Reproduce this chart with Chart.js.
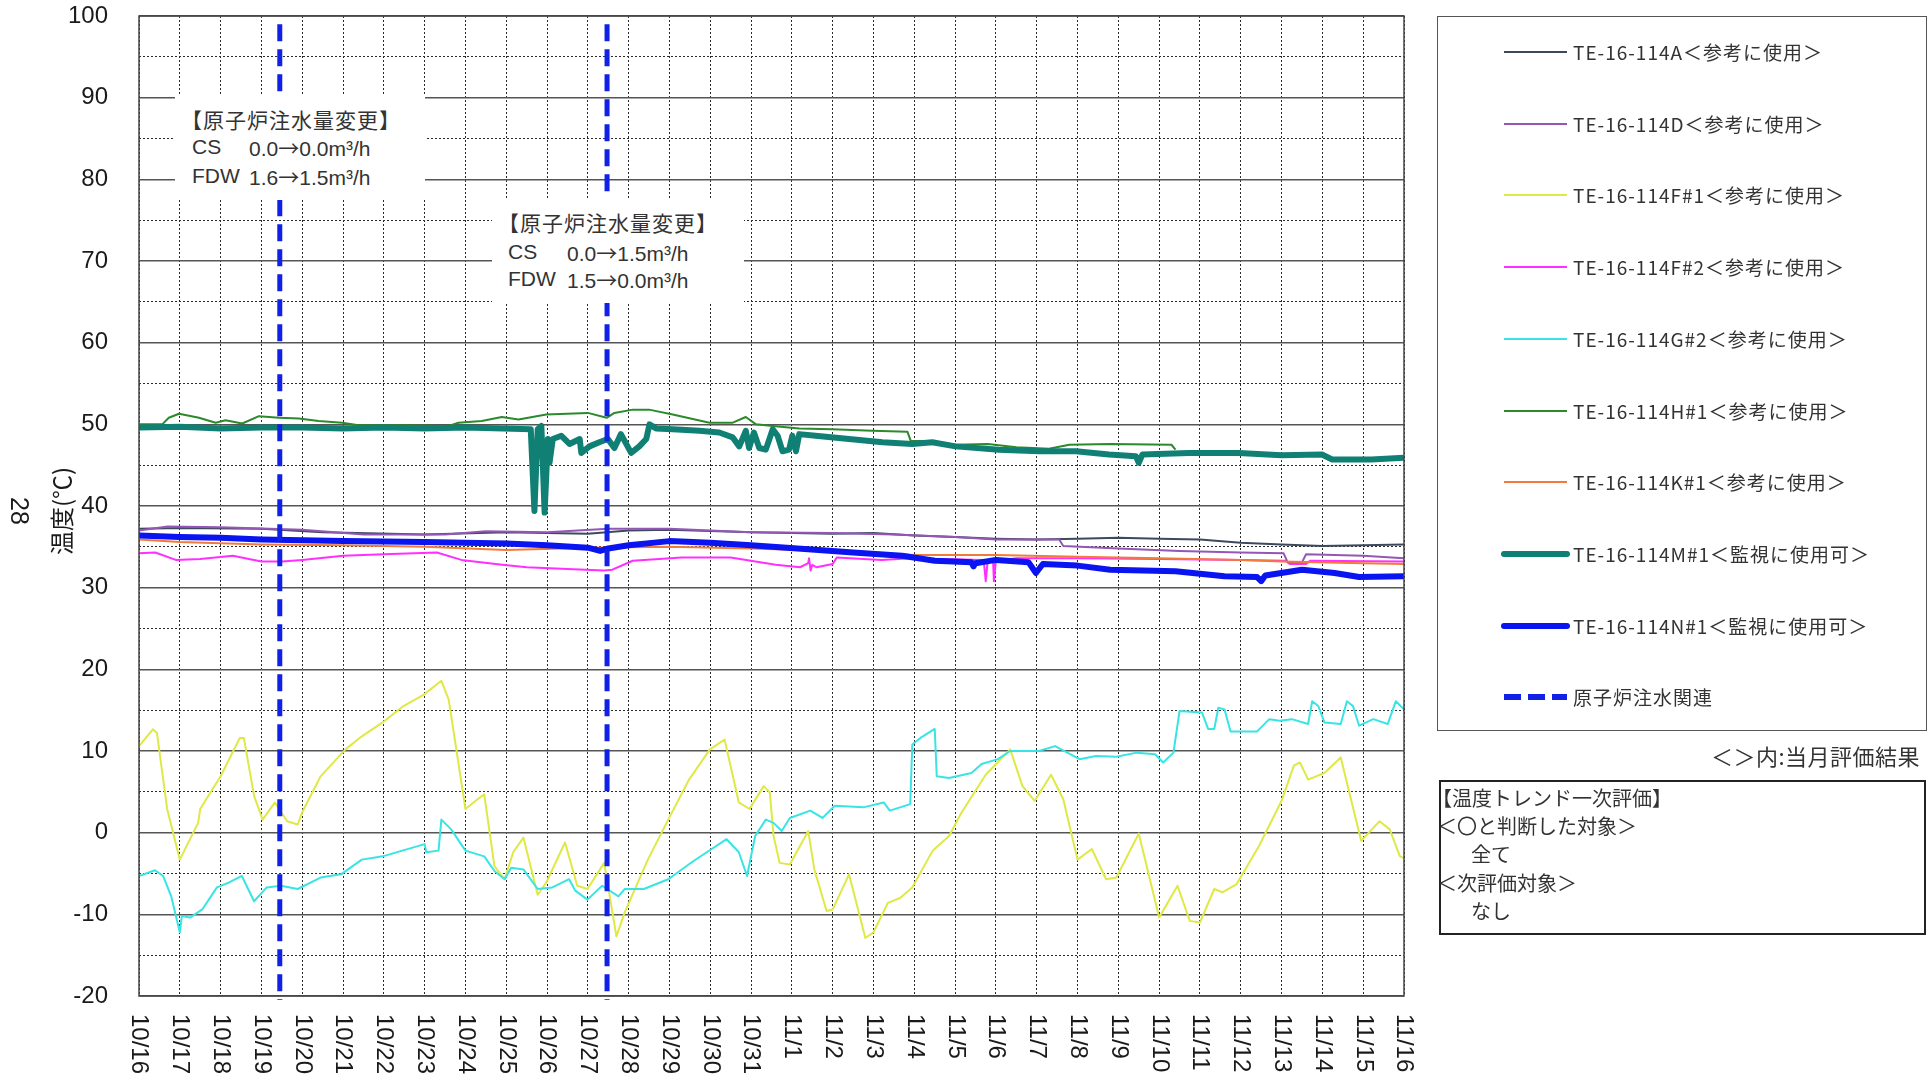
<!DOCTYPE html>
<html lang="ja">
<head>
<meta charset="utf-8">
<title>温度トレンド</title>
<script src="https://cdn.jsdelivr.net/npm/chart.js@4.4.1/dist/chart.umd.min.js"></script>
<style>
  body { margin: 0; background: #fff; }
  #wrap { position: relative; width: 1930px; height: 1085px; overflow: hidden;
          font-family: "Noto Sans CJK JP", sans-serif; color: #333; }
  #chart { position: absolute; left: 0; top: 0; }
  .memo { position: absolute; background: #fff; }
  .memo div { position: absolute; white-space: nowrap; font-family: "Liberation Sans", "Noto Sans CJK JP", sans-serif;
              font-size: 21px; line-height: 26px; color: #333; }
  .memo .cj { font-family: "Noto Sans CJK JP", sans-serif; }
  .memo .head { letter-spacing: 1px; }
  #legendBox { position: absolute; left: 1437px; top: 16px; width: 490px; height: 715px;
               border: 1.5px solid #555; box-sizing: border-box; }
  .item { position: absolute; left: 1500px; height: 24px; width: 420px; }
  .item svg { position: absolute; left: 0; top: 6px; }
  .item span { position: absolute; left: 73px; top: 0; font-size: 19px; line-height: 24px;
               letter-spacing: 1px; white-space: nowrap; color: #333; }
  #note { position: absolute; right: 10px; top: 741px; font-size: 22px; line-height: 28px;
          letter-spacing: 0.5px; color: #333; }
  #evalBox { position: absolute; left: 1439px; top: 780px; width: 487px; height: 155px;
             border: 2px solid #222; box-sizing: border-box; }
  .ev { position: absolute; font-size: 20px; line-height: 28px; white-space: nowrap; color: #333; }
</style>
</head>
<body>
<div id="wrap">
  <canvas id="chart" width="1930" height="1085"></canvas>

  <div class="memo" style="left:175px; top:95px; width:250px; height:105px;">
    <div class="cj head" style="left:6px; top:11px;">【原子炉注水量変更】</div>
    <div style="left:17px; top:39px;">CS</div><div style="left:74px; top:39px;">0.0<span class="cj">→</span>0.0m³/h</div>
    <div style="left:17px; top:68px;">FDW</div><div style="left:74px; top:68px;">1.6<span class="cj">→</span>1.5m³/h</div>
  </div>
  <div class="memo" style="left:492px; top:198px; width:252px; height:105px;">
    <div class="cj head" style="left:6px; top:11px;">【原子炉注水量変更】</div>
    <div style="left:16px; top:41px;">CS</div><div style="left:75px; top:41px;">0.0<span class="cj">→</span>1.5m³/h</div>
    <div style="left:16px; top:68px;">FDW</div><div style="left:75px; top:68px;">1.5<span class="cj">→</span>0.0m³/h</div>
  </div>

  <div id="legendBox"></div>
  <div id="legendItems"></div>

  <div id="note">＜＞内:当月評価結果</div>
  <div id="evalBox"></div>
  <div class="ev" style="left:1432px; top:784px;">【温度トレンド一次評価】</div>
  <div class="ev" style="left:1437px; top:812px;">＜〇と判断した対象＞</div>
  <div class="ev" style="left:1471px; top:840px;">全て</div>
  <div class="ev" style="left:1437px; top:869px;">＜次評価対象＞</div>
  <div class="ev" style="left:1471px; top:897px;">なし</div>
</div>

<script>
// x = days since 10/16 0:00, y = temperature (℃)
const dateLabels = ['10/16', '10/17', '10/18', '10/19', '10/20', '10/21', '10/22', '10/23', '10/24', '10/25',
  '10/26', '10/27', '10/28', '10/29', '10/30', '10/31', '11/1', '11/2', '11/3', '11/4', '11/5', '11/6',
  '11/7', '11/8', '11/9', '11/10', '11/11', '11/12', '11/13', '11/14', '11/15', '11/16'];

const tempTicks = [100, 90, 80, 70, 60, 50, 40, 30, 20, 10, 0, -10, -20];

const injectionChangeDays = [3.45, 11.47];

const te114A = [[0, 37.2], [1, 37.3], [3, 37.2], [4.5, 36.8], [7, 36.5], [9, 36.8], [11, 36.6], [12, 37.0],
  [13, 37.1], [15, 36.8], [17, 36.6], [18, 36.7], [19, 36.4], [20, 36.2], [21, 36.0], [22, 35.9], [23, 36.0],
  [24, 36.1], [25, 36.0], [26, 35.9], [27, 35.5], [28, 35.3], [29, 35.1], [30, 35.2], [31, 35.3]];

const te114D = [[0, 37.0], [0.7, 37.5], [2, 37.4], [4, 37.1], [5.5, 36.5], [7.5, 36.5], [8.5, 36.9], [10, 36.8],
  [11.5, 37.2], [13, 37.2], [15, 36.8], [17, 36.7], [18.5, 36.5], [20, 36.2], [21, 35.9], [22.55, 35.9],
  [22.65, 35.1], [24, 34.8], [25.5, 34.5], [27, 34.3], [28.05, 34.2], [28.15, 33.1], [28.5, 33.1], [28.6, 34.1],
  [30, 33.9], [31, 33.6]];

const te114F1 = [[0, 10.6], [0.34, 12.65], [0.44, 12.2], [0.69, 2.9], [1.0, -3.3], [1.45, 1.2], [1.5, 2.9],
  [2.0, 6.9], [2.47, 11.6], [2.57, 11.6], [2.82, 4.5], [3.03, 1.6], [3.33, 3.7], [3.63, 1.4], [3.89, 1.0],
  [3.99, 2.4], [4.45, 6.9], [5.06, 10.2], [5.46, 11.8], [5.97, 13.5], [6.48, 15.5], [6.98, 16.9], [7.41, 18.6],
  [7.59, 16.3], [8.0, 2.9], [8.25, 3.9], [8.46, 4.7], [8.71, -4.1], [8.96, -5.7], [9.17, -2.4], [9.42, -0.6],
  [9.77, -7.6], [9.98, -6.1], [10.44, -1.2], [10.74, -6.5], [10.99, -6.9], [11.4, -3.7], [11.7, -12.7],
  [11.9, -9.8], [12.47, -3.3], [12.97, 1.6], [13.48, 6.5], [13.99, 10.2], [14.35, 11.4], [14.7, 3.7],
  [14.96, 2.9], [15.31, 5.7], [15.46, 4.9], [15.55, -0.4], [15.7, -3.7], [15.95, -3.9], [16.4, 0.2],
  [16.55, -4.5], [16.85, -9.6], [17.0, -9.4], [17.4, -5.1], [17.8, -12.9], [18.0, -12.2], [18.35, -8.6],
  [18.65, -8.0], [18.95, -6.7], [19.45, -2.2], [19.85, -0.4], [20.15, 2.4], [20.75, 7.1], [21.35, 10.2],
  [21.65, 5.7], [21.95, 3.9], [22.35, 7.1], [22.65, 4.1], [23.0, -3.3], [23.35, -2.0], [23.7, -5.7],
  [23.95, -5.5], [24.5, -0.1], [25.0, -10.4], [25.45, -6.5], [25.75, -10.8], [26.0, -11.0], [26.35, -6.9],
  [26.55, -7.3], [26.9, -6.3], [27.45, -1.6], [28.0, 3.9], [28.3, 8.2], [28.45, 8.6], [28.65, 6.5],
  [29.05, 7.3], [29.45, 9.2], [29.95, -1.0], [30.4, 1.4], [30.65, 0.4], [30.9, -2.9], [31.0, -3.1]];

const te114F2 = [[0, 34.2], [0.4, 34.3], [0.9, 33.4], [1.5, 33.5], [2.3, 33.9], [3.0, 33.2], [3.5, 33.2],
  [4, 33.4], [5, 33.9], [6, 34.1], [7.3, 34.3], [7.9, 33.4], [8.9, 32.8], [9.5, 32.5], [10.5, 32.3],
  [11.4, 32.1], [11.6, 32.2], [12.1, 33.3], [13.3, 33.7], [14.5, 33.7], [15.6, 32.8], [16.2, 32.5],
  [16.4, 33.0], [16.42, 33.6], [16.46, 32.1], [16.5, 32.8], [16.6, 32.5], [17.0, 32.9], [17.1, 33.7],
  [18.2, 33.4], [18.9, 33.6], [20.7, 33.4], [20.75, 30.8], [20.8, 33.4], [20.93, 33.4], [20.95, 30.8],
  [21.0, 33.3], [21.5, 33.6], [23, 33.6], [25, 33.5], [27, 33.4], [28.1, 33.3], [28.2, 32.9], [28.6, 32.9],
  [28.7, 33.3], [31, 33.2]];

const te114G2 = [[0, -5.3], [0.39, -4.6], [0.59, -5.3], [0.79, -7.8], [1.0, -12.2], [1.05, -10.2],
  [1.25, -10.4], [1.55, -9.4], [1.91, -6.7], [2.21, -6.1], [2.52, -5.3], [2.82, -8.4], [3.13, -6.7],
  [3.48, -6.5], [3.89, -6.9], [4.45, -5.5], [4.95, -5.1], [5.46, -3.3], [5.97, -2.9], [7.0, -1.4],
  [7.04, -2.4], [7.34, -2.2], [7.41, 1.6], [7.65, 0.4], [8.0, -2.2], [8.46, -2.9], [8.71, -4.7], [8.96, -5.7],
  [9.12, -4.3], [9.42, -4.5], [9.77, -6.9], [10.13, -6.7], [10.54, -5.7], [10.69, -7.1], [10.99, -8.2],
  [11.35, -6.5], [11.75, -7.8], [11.9, -6.9], [12.37, -6.9], [12.97, -5.7], [13.58, -3.5], [14.4, -0.8],
  [14.7, -2.4], [14.9, -5.3], [15.1, -0.4], [15.36, 1.6], [15.55, 1.2], [15.75, 0.2], [15.95, 1.8],
  [16.45, 2.7], [16.75, 1.8], [17.05, 3.3], [17.75, 3.1], [18.25, 3.7], [18.4, 2.7], [18.9, 3.5],
  [18.95, 10.8], [19.15, 11.6], [19.5, 12.7], [19.55, 6.9], [19.85, 6.7], [20.4, 7.3], [20.65, 8.4],
  [21.05, 9.0], [21.35, 10.0], [22.05, 10.0], [22.45, 10.6], [23.05, 9.0], [23.45, 9.4], [23.95, 9.3],
  [24.45, 9.8], [24.9, 9.6], [25.1, 8.6], [25.35, 9.8], [25.5, 14.9], [26.05, 14.7], [26.2, 12.7],
  [26.35, 12.7], [26.45, 15.3], [26.6, 15.1], [26.75, 12.4], [27.4, 12.4], [27.7, 13.9], [27.95, 13.7],
  [28.25, 13.9], [28.65, 13.3], [28.75, 16.1], [28.9, 15.5], [29.05, 13.5], [29.45, 13.3], [29.6, 16.1],
  [29.75, 15.5], [29.9, 13.1], [30.25, 13.9], [30.6, 13.3], [30.8, 16.1], [31.0, 15.1]];

const te114H1 = [[0, 50.0], [0.57, 50.0], [0.73, 50.8], [0.98, 51.3], [1.47, 50.8], [1.88, 50.2], [2.12, 50.5],
  [2.53, 50.1], [2.94, 51.0], [3.43, 50.8], [3.92, 50.7], [4.4, 50.4], [4.98, 50.2], [5.38, 49.9], [6.36, 49.9],
  [7.59, 49.8], [7.83, 50.2], [8.4, 50.4], [8.89, 50.9], [9.3, 50.6], [9.98, 51.2], [11.0, 51.4], [11.46, 50.8],
  [11.65, 51.4], [12.1, 51.8], [12.5, 51.8], [13.08, 51.2], [13.98, 50.2], [14.55, 50.2], [14.87, 50.9],
  [15.12, 50.0], [15.53, 49.8], [16.18, 49.5], [16.99, 49.4], [17.97, 49.2], [18.83, 49.1], [18.91, 48.0],
  [19.5, 47.9], [20.0, 47.5], [20.8, 47.6], [21.5, 47.2], [22.3, 47.0], [22.8, 47.5], [23.8, 47.6],
  [25.3, 47.5], [25.4, 46.9]];

const te114K1 = [[0, 35.9], [1, 35.6], [3, 35.3], [5, 35.2], [7, 35.0], [9, 34.6], [11, 34.9], [13, 35.0],
  [15, 34.8], [17, 34.5], [19, 34.0], [21, 34.0], [23, 33.8], [25, 33.6], [27, 33.4], [28, 33.2], [30, 33.0],
  [31, 32.9]];

const te114M1 = [[0, 49.6], [1, 49.7], [2, 49.5], [3, 49.6], [4, 49.6], [5, 49.5], [6, 49.6], [7, 49.5],
  [8, 49.6], [9.6, 49.4], [9.69, 39.4], [9.77, 49.4], [9.86, 49.8], [9.94, 39.2], [10.02, 48.2], [10.06, 45.3],
  [10.14, 48.2], [10.35, 48.6], [10.55, 47.6], [10.8, 48.2], [10.84, 46.5], [11.04, 47.3], [11.28, 47.8],
  [11.49, 48.2], [11.65, 47.1], [11.81, 48.8], [12.06, 46.5], [12.26, 47.3], [12.43, 48.2], [12.51, 50.0],
  [12.67, 49.5], [13.08, 49.4], [13.73, 49.2], [14.22, 49.0], [14.55, 48.4], [14.71, 47.3], [14.87, 49.2],
  [14.95, 47.1], [15.07, 49.0], [15.2, 47.1], [15.36, 46.9], [15.53, 49.4], [15.65, 48.6], [15.77, 46.7],
  [15.93, 46.9], [16.01, 48.6], [16.1, 46.7], [16.18, 48.8], [16.58, 48.6], [17.4, 48.2], [18.22, 47.8],
  [18.95, 47.6], [19.44, 47.8], [20.01, 47.3], [21.07, 46.9], [22.06, 46.7], [22.96, 46.7], [23.77, 46.3],
  [24.43, 46.1], [24.5, 45.3], [24.59, 46.3], [25.73, 46.5], [26.95, 46.5], [28.0, 46.2], [28.99, 46.3],
  [29.24, 45.7], [30.2, 45.7], [31, 45.9]];

const te114N1 = [[0, 36.4], [1, 36.2], [2, 36.1], [3, 35.9], [4, 35.8], [5, 35.7], [7, 35.6], [8, 35.5],
  [9, 35.4], [10, 35.2], [11, 34.9], [11.3, 34.5], [11.5, 34.8], [12, 35.2], [13, 35.7], [14, 35.5],
  [15, 35.2], [16.4, 34.7], [17.5, 34.3], [18.7, 33.9], [19.5, 33.3], [20.4, 33.1], [20.45, 32.6],
  [20.5, 33.0], [21, 33.4], [21.8, 33.1], [21.98, 31.8], [22.15, 32.9], [23, 32.7], [23.8, 32.2],
  [25.4, 32.0], [26.6, 31.4], [27.4, 31.3], [27.5, 30.8], [27.6, 31.5], [28.5, 32.2], [29.3, 31.8],
  [29.9, 31.3], [31, 31.4]];

const toPoints = arr => arr.map(([x, y]) => ({ x, y }));

function seriesLine(label, data, color, width, order) {
  return {
    label, data: toPoints(data), borderColor: color, backgroundColor: color, borderWidth: width,
    pointRadius: 0, tension: 0, fill: false, order, borderJoinStyle: 'round'
  };
}

const datasets = [
  seriesLine('TE-16-114A＜参考に使用＞', te114A, '#3d4a5e', 2, 6),
  seriesLine('TE-16-114D＜参考に使用＞', te114D, '#9457b8', 2, 5),
  seriesLine('TE-16-114F#1＜参考に使用＞', te114F1, '#dfe945', 2, 8),
  seriesLine('TE-16-114F#2＜参考に使用＞', te114F2, '#ff30ff', 2, 7),
  seriesLine('TE-16-114G#2＜参考に使用＞', te114G2, '#38e4e4', 2, 7),
  seriesLine('TE-16-114H#1＜参考に使用＞', te114H1, '#2b8a2b', 2, 4),
  seriesLine('TE-16-114K#1＜参考に使用＞', te114K1, '#f27a3a', 2, 4),
  seriesLine('TE-16-114M#1＜監視に使用可＞', te114M1, '#118074', 6, 2),
  seriesLine('TE-16-114N#1＜監視に使用可＞', te114N1, '#0a14f0', 6, 1)
];

injectionChangeDays.forEach((d, i) => {
  datasets.push({
    label: '原子炉注水関連', data: [{ x: d, y: 99 }, { x: d, y: -20.5 }],
    borderColor: '#1020e6', borderWidth: 5, borderDash: [17, 8], pointRadius: 0,
    order: 0, hideInLegend: i > 0, clip: 10
  });
});

const textPlugin = {
  id: 'texts',
  afterDraw(chart) {
    const { ctx, chartArea: a, scales: { x, y } } = chart;
    ctx.save();
    ctx.strokeStyle = '#444';
    ctx.lineWidth = 1.5;
    ctx.strokeRect(a.left, a.top, a.right - a.left, a.bottom - a.top);

    ctx.fillStyle = '#1a1a1a';
    ctx.font = '24px "Liberation Sans", Arial, sans-serif';
    ctx.textBaseline = 'middle';

    ctx.textAlign = 'right';
    tempTicks.forEach(v => ctx.fillText(String(v), a.left - 31, y.getPixelForValue(v)));

    ctx.textAlign = 'left';
    dateLabels.forEach((lab, i) => {
      ctx.save();
      ctx.translate(x.getPixelForValue(i), a.bottom + 18);
      ctx.rotate(Math.PI / 2);
      ctx.fillText(lab, 0, 0);
      ctx.restore();
    });

    const midY = (a.top + a.bottom) / 2 + 5;
    ctx.textAlign = 'center';
    ctx.save();
    ctx.translate(a.left - 77, midY);
    ctx.rotate(-Math.PI / 2);
    ctx.font = '24px "Noto Sans CJK JP", sans-serif';
    ctx.fillText('温度(℃)', 0, 0);
    ctx.restore();

    ctx.save();
    ctx.translate(18, midY);
    ctx.rotate(Math.PI / 2);
    ctx.font = '25px "Liberation Sans", Arial, sans-serif';
    ctx.fillText('28', 0, 0);
    ctx.restore();
    ctx.restore();
  }
};

const chart = new Chart(document.getElementById('chart'), {
  type: 'line',
  data: { datasets },
  options: {
    responsive: false,
    animation: false,
    devicePixelRatio: 1,
    layout: { padding: { left: 0, top: 16, right: 526, bottom: 0 } },
    plugins: { legend: { display: false }, tooltip: { enabled: false } },
    scales: {
      x: {
        type: 'linear', min: 0, max: 31,
        afterFit: s => { s.height = 89; },
        ticks: { stepSize: 1, display: false, autoSkip: false },
        grid: { color: '#2a2a2a', lineWidth: 1, drawTicks: false },
        border: { display: false, dash: [2, 2] }
      },
      y: {
        min: -20, max: 100,
        afterFit: s => { s.width = 139; },
        ticks: { stepSize: 5, autoSkip: false, display: false },
        grid: {
          drawTicks: false,
          color: c => (c.tick && c.tick.value % 10 === 0 ? '#555' : '#2a2a2a'),
          lineWidth: c => (c.tick && c.tick.value % 10 === 0 ? 1.6 : 1)
        },
        border: { display: false, dash: c => (c.tick && c.tick.value % 10 !== 0 ? [2, 2] : []) }
      }
    }
  },
  plugins: [textPlugin]
});

// legend built from the datasets
const legendHost = document.getElementById('legendItems');
chart.data.datasets.filter(d => !d.hideInLegend).forEach((d, i) => {
  const cy = 52 + i * 71.7;
  const dash = d.borderDash ? ' stroke-dasharray="17 7"' : '';
  const cap = d.borderWidth > 3 && !d.borderDash ? 'round' : 'butt';
  const row = document.createElement('div');
  row.className = 'item';
  row.style.top = (cy - 12) + 'px';
  row.innerHTML = '<svg width="72" height="12"><line x1="4" y1="6" x2="67" y2="6" stroke="' + d.borderColor +
    '" stroke-width="' + (d.borderWidth > 3 ? 6 : 2) + '" stroke-linecap="' + cap + '"' + dash + '/></svg>' +
    '<span>' + d.label + '</span>';
  legendHost.appendChild(row);
});
</script>
</body>
</html>
